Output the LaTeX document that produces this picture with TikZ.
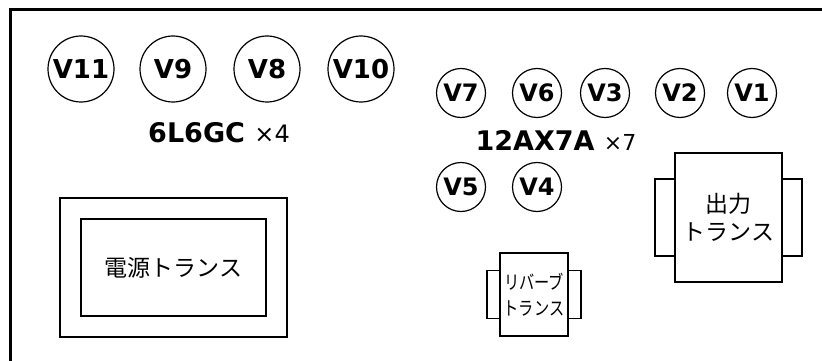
\documentclass[tikz,border=0pt]{standalone}
\usepackage{fontspec}
\setmainfont{DejaVu Sans}
\newfontfamily\jpfont{Noto Sans CJK JP}
\newfontfamily\jpnarrow[FakeStretch=0.8]{Noto Sans CJK JP}
\usetikzlibrary{positioning}

\begin{document}
\begin{tikzpicture}[
    x=1pt, y=-1pt,
    tube/.style={circle, draw, line width=1.2pt, inner sep=0pt},
    powertube/.style={tube, minimum size=66pt, font=\fontsize{26}{26}\selectfont\bfseries},
    pretube/.style={tube, minimum size=49pt, font=\fontsize{24}{24}\selectfont\bfseries},
    tubetype/.style={font=\fontsize{27}{27}\selectfont\bfseries},
    core/.style={rectangle, draw, line width=1.2pt, inner sep=0pt, outer sep=0pt, align=center},
    coil/.style={rectangle, draw, line width=1.2pt, inner sep=0pt, outer sep=0pt}
]
\useasboundingbox (0,0) rectangle (822,361);

% Chassis edge
\coordinate (chassisbl) at (10,375);
\coordinate (chassistr) at (835,10);
\draw[line width=3pt] (chassisbl) |- (chassistr);

% Power tubes
\node[powertube] (v11) at (81,69) {V11};
\node[powertube] (v9) at (173,69) {V9};
\node[powertube] (v8) at (267,69) {V8};
\node[powertube] (v10) at (361,69) {V10};
\node[tubetype] (powertype) at (219,133) {6L6GC \mdseries\fontsize{24}{24}\selectfont ×4};

% Preamp tubes
\node[pretube] (v7) at (461,93) {V7};
\node[pretube] (v6) at (537,93) {V6};
\node[pretube] (v3) at (605,93) {V3};
\node[pretube] (v2) at (680,93) {V2};
\node[pretube] (v1) at (752,93) {V1};
\node[tubetype] (pretype) at (556,140) {12AX7A \mdseries\fontsize{22}{22}\selectfont ×7};
\node[pretube] (v5) at (461,187) {V5};
\node[pretube] (v4) at (537,187) {V4};

% Power transformer
\node[core, minimum width=227pt, minimum height=139pt] (ptcase) at (173.5,267.5) {};
\node[core, minimum width=185pt, minimum height=97pt, font=\jpfont\fontsize{23}{23}\selectfont] (ptcore) at (ptcase.center) {電源トランス};

% Output transformer
\node[core, minimum width=107pt, minimum height=129pt, font=\jpfont\fontsize{23}{28}\selectfont] (outtr) at (728.5,217.5) {出力\\トランス};
\node[coil, minimum width=20pt, minimum height=77pt, left=0pt of outtr] (outcoilL) {};
\node[coil, minimum width=20pt, minimum height=77pt, right=0pt of outtr] (outcoilR) {};

% Reverb transformer
\node[core, minimum width=68pt, minimum height=83pt, font=\jpnarrow\fontsize{19}{26}\selectfont] (revtr) at (534,294.5) {リバーブ\\トランス};
\node[coil, minimum width=13pt, minimum height=48pt, left=0pt of revtr] (revcoilL) {};
\node[coil, minimum width=13pt, minimum height=48pt, right=0pt of revtr] (revcoilR) {};

\end{tikzpicture}
\end{document}
